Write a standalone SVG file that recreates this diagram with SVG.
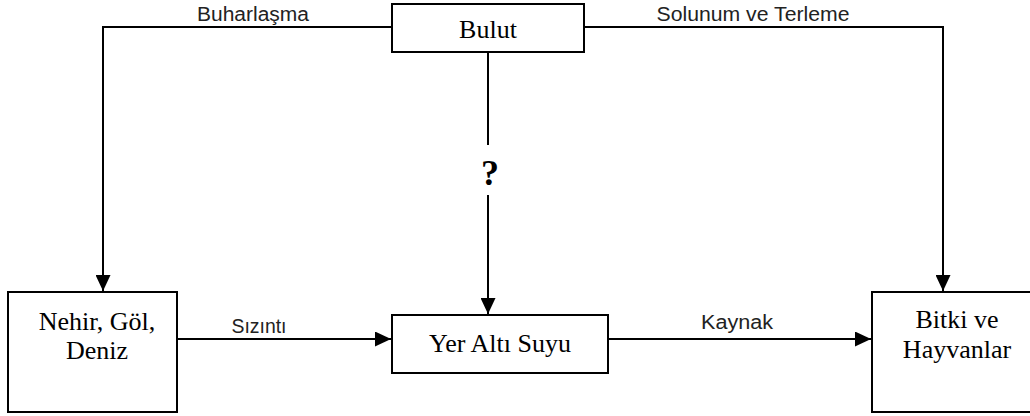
<svg xmlns="http://www.w3.org/2000/svg" width="1030" height="416" viewBox="0 0 1030 416">
<style>
.box{fill:#fff;stroke:#000;stroke-width:2}
.node{font-family:"Liberation Serif","Times New Roman",serif;font-size:26px;font-weight:normal;fill:#000;text-anchor:middle}
.lbl{font-family:"Liberation Sans",Arial,sans-serif;font-size:20px;fill:#222;text-anchor:middle}
.conn{fill:none;stroke:#000;stroke-width:2}
</style>
<defs>
<marker id="arr" markerUnits="userSpaceOnUse" markerWidth="16" markerHeight="15" refX="16" refY="7.5" orient="auto">
<path d="M0,0 L16,7.5 L0,15 z" fill="#000"/>
</marker>
</defs>
<rect width="1030" height="416" fill="#fff"/>
<g id="connectors">
<path class="conn" d="M392,27 H103 V291" marker-end="url(#arr)"/>
<path class="conn" d="M584,27 H943 V291" marker-end="url(#arr)"/>
<path class="conn" d="M488,52 V145"/>
<path class="conn" d="M488,195 V314" marker-end="url(#arr)"/>
<path class="conn" d="M177,339 H391" marker-end="url(#arr)"/>
<path class="conn" d="M608,339 H871" marker-end="url(#arr)"/>
<text class="lbl" x="253" y="21" textLength="112" lengthAdjust="spacingAndGlyphs">Buharlaşma</text>
<text class="lbl" x="753" y="21" textLength="193" lengthAdjust="spacingAndGlyphs">Solunum ve Terleme</text>
<text class="lbl" x="259" y="333" textLength="55" lengthAdjust="spacingAndGlyphs">Sızıntı</text>
<text class="lbl" x="737" y="329" textLength="72" lengthAdjust="spacingAndGlyphs">Kaynak</text>
<text x="490" y="185" font-family="'Liberation Serif','Times New Roman',serif" font-weight="bold" font-size="36" text-anchor="middle">?</text>
</g>
<g id="bulut">
<rect class="box" x="392" y="4" width="192" height="48"/>
<text class="node" x="488" y="38">Bulut</text>
</g>
<g id="nehir">
<rect class="box" x="8" y="292" width="169" height="120"/>
<text class="node" x="97" y="330">Nehir, Göl,</text>
<text class="node" x="97" y="359">Deniz</text>
</g>
<g id="yeralti">
<rect class="box" x="392" y="315" width="216" height="58"/>
<text class="node" x="500" y="352">Yer Altı Suyu</text>
</g>
<g id="bitki">
<rect class="box" x="872" y="292" width="170" height="120"/>
<text class="node" x="957" y="328">Bitki ve</text>
<text class="node" x="957" y="358">Hayvanlar</text>
</g>
</svg>
